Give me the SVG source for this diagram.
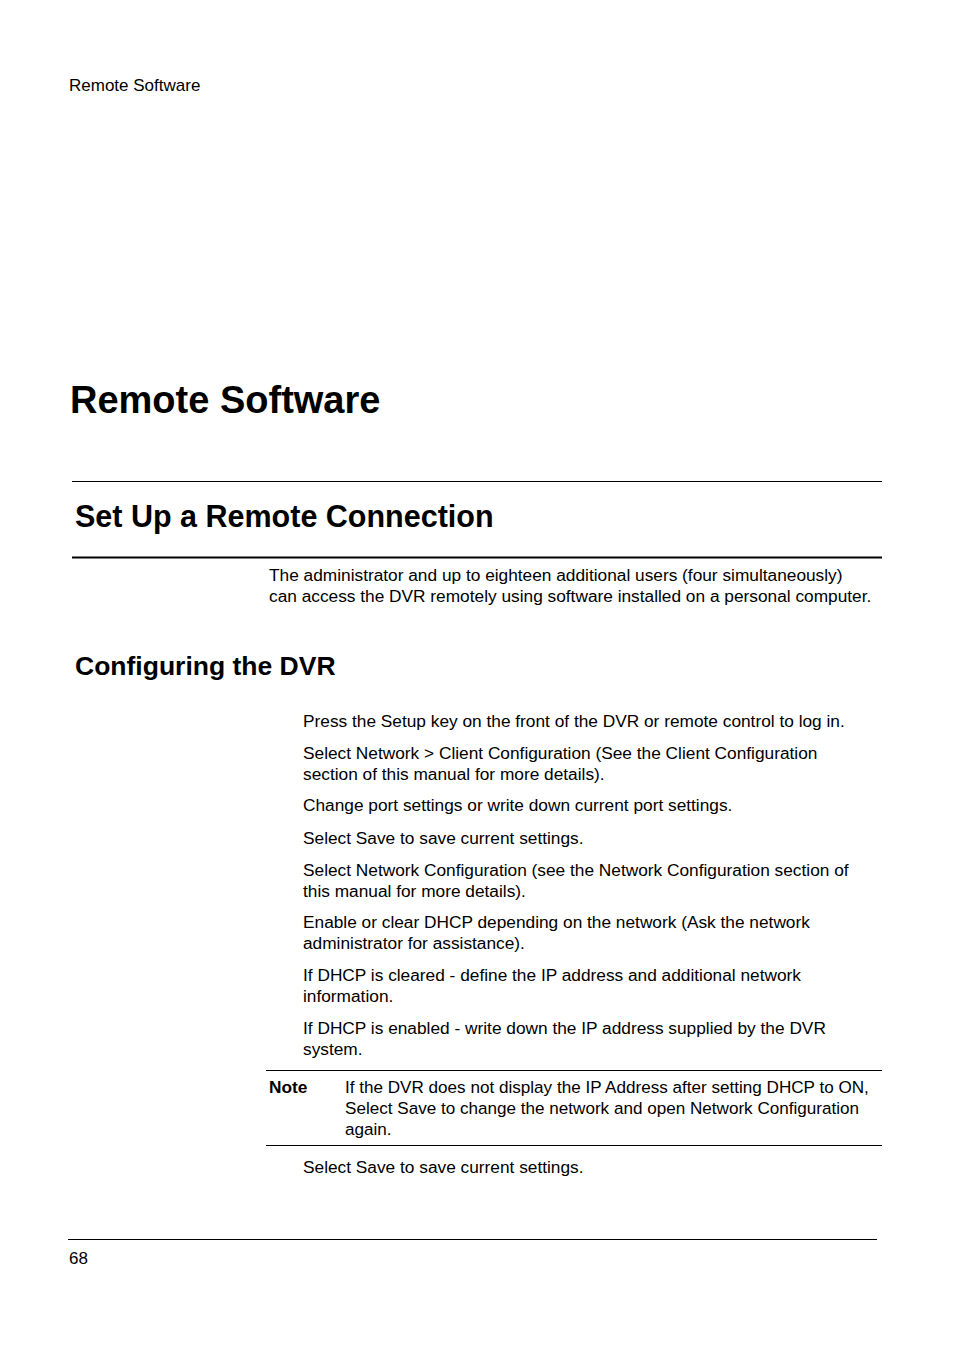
<svg xmlns="http://www.w3.org/2000/svg" width="954" height="1356" viewBox="0 0 954 1356">
<style>
text{font-family:"Liberation Sans",Arial,sans-serif;fill:#000}
.b{font-size:17.3px}
.n{font-size:17.1px}
.hd{font-size:17px}
.h1{font-size:38px;font-weight:bold}
.h2{font-size:30.5px;font-weight:bold}
.h3{font-size:26.5px;font-weight:bold}
.nb{font-size:17.3px;font-weight:bold}
line{stroke:#000}
</style>
<rect width="954" height="1356" fill="#fff"/>
<text class="hd" x="69" y="91">Remote Software</text>
<text class="h1" x="70" y="413">Remote Software</text>
<line x1="72" y1="481.5" x2="882" y2="481.5" stroke-width="1"/>
<text class="h2" x="75" y="527">Set Up a Remote Connection</text>
<line x1="72" y1="557.5" x2="882" y2="557.5" stroke-width="2"/>
<text class="b" x="269" y="581">The administrator and up to eighteen additional users (four simultaneously)</text>
<text class="b" x="269" y="602">can access the DVR remotely using software installed on a personal computer.</text>
<text class="h3" x="75" y="675">Configuring the DVR</text>
<g id="steps">
<text class="b" x="303" y="727">Press the Setup key on the front of the DVR or remote control to log in.</text>
<text class="b" x="303" y="759">Select Network &gt; Client Configuration (See the Client Configuration</text>
<text class="b" x="303" y="780">section of this manual for more details).</text>
<text class="b" x="303" y="811">Change port settings or write down current port settings.</text>
<text class="b" x="303" y="844">Select Save to save current settings.</text>
<text class="b" x="303" y="876">Select Network Configuration (see the Network Configuration section of</text>
<text class="b" x="303" y="897">this manual for more details).</text>
<text class="b" x="303" y="928">Enable or clear DHCP depending on the network (Ask the network</text>
<text class="b" x="303" y="949">administrator for assistance).</text>
<text class="b" x="303" y="981">If DHCP is cleared - define the IP address and additional network</text>
<text class="b" x="303" y="1002">information.</text>
<text class="b" x="303" y="1034">If DHCP is enabled - write down the IP address supplied by the DVR</text>
<text class="b" x="303" y="1055">system.</text>
</g>
<g id="note">
<line x1="266" y1="1070.5" x2="882" y2="1070.5" stroke-width="1"/>
<text class="nb" x="269" y="1093">Note</text>
<text class="n" x="345" y="1093">If the DVR does not display the IP Address after setting DHCP to ON,</text>
<text class="n" x="345" y="1114">Select Save to change the network and open Network Configuration</text>
<text class="n" x="345" y="1135">again.</text>
<line x1="266" y1="1145.5" x2="882" y2="1145.5" stroke-width="1"/>
</g>
<text class="b" x="303" y="1173">Select Save to save current settings.</text>
<line x1="68" y1="1239.5" x2="877" y2="1239.5" stroke-width="1"/>
<text class="hd" x="69" y="1264">68</text>
</svg>
